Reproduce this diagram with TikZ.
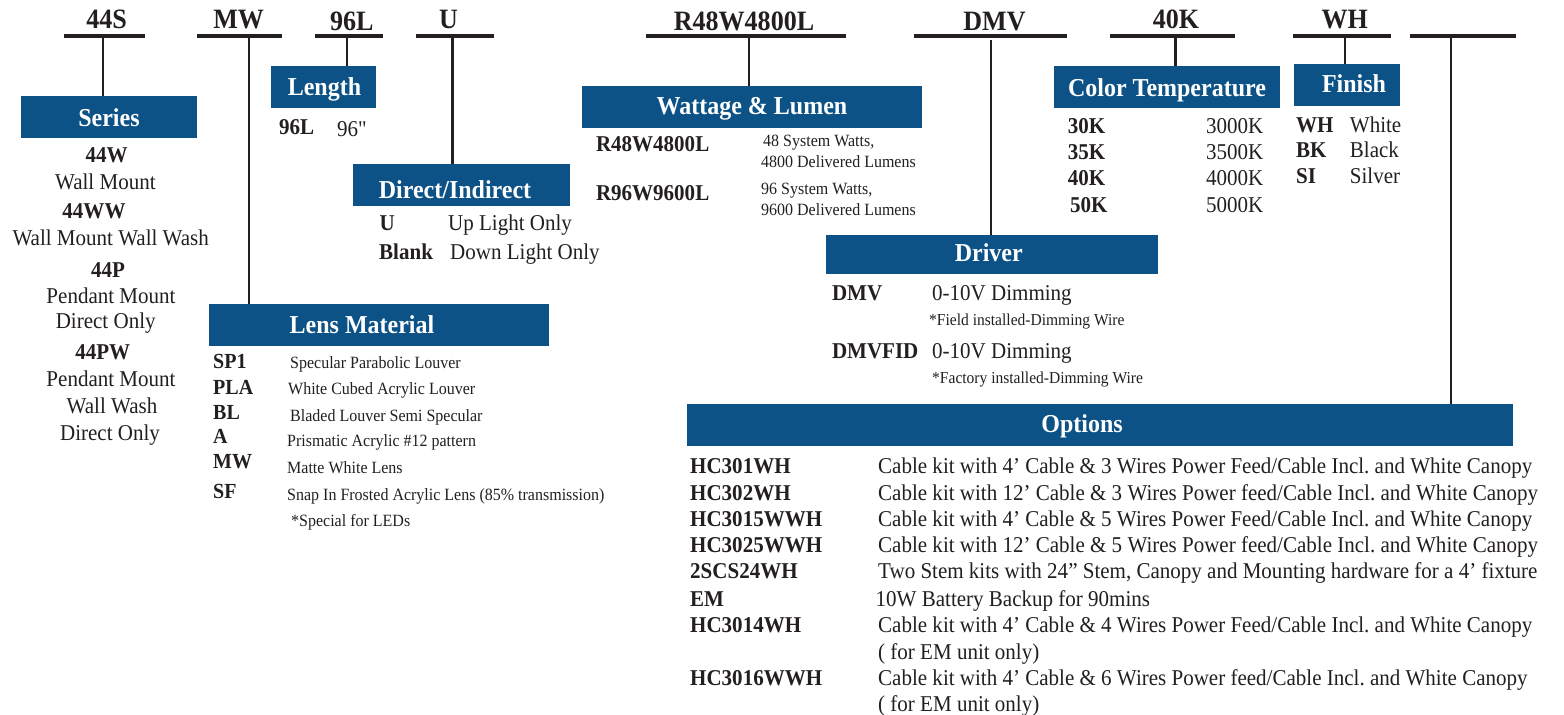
\documentclass[tikz,border=0pt]{standalone}
\usepackage{fontspec}
\setmainfont{Liberation Serif}[FakeStretch=0.93]
\definecolor{ink}{RGB}{35,31,32}
\definecolor{hblue}{RGB}{12,82,134}
\frenchspacing
\newcommand{\straightdq}{\XeTeXglyph\XeTeXglyphindex "quotedbl"\relax}
\begin{document}
\begin{tikzpicture}[x=1pt,y=-1pt,
  bar/.style={fill=ink, inner sep=0, minimum height=4pt, draw=none},
  vline/.style={draw=ink, line width=2.4pt},
  hbox/.style={fill=hblue, inner sep=0, draw=none},
  htitle/.style={anchor=base, text=white, font=\fontsize{25.8}{30}\selectfont\bfseries, inner sep=0},
  toplbl/.style={anchor=base, text=ink, font=\fontsize{28}{32}\selectfont\bfseries, inner sep=0},
  cc/.style={anchor=base, text=ink, font=\fontsize{22.6}{26}\selectfont, inner sep=0},
  ccb/.style={anchor=base, text=ink, font=\fontsize{22.6}{26}\selectfont\bfseries, inner sep=0},
  lt/.style={anchor=base west, text=ink, font=\fontsize{22.6}{26}\selectfont, inner sep=0},
  ltb/.style={anchor=base west, text=ink, font=\fontsize{22.6}{26}\selectfont\bfseries, inner sep=0},
  lbb/.style={anchor=base west, text=ink, font=\fontsize{21.5}{25}\selectfont\bfseries, inner sep=0},
  sm/.style={anchor=base west, text=ink, font=\fontsize{17.2}{20}\selectfont, inner sep=0},
  xs/.style={anchor=base west, text=ink, font=\fontsize{16.7}{19}\selectfont, inner sep=0}]
\useasboundingbox[fill=white] (0,0) rectangle (1564,715);

% ---- top bars and labels
\node[bar, minimum width=81pt]    (b1) at (104.5,35.7) {};
\node[bar, minimum width=85pt]    (b2) at (239,35.7) {};
\node[bar, minimum width=67.6pt]  (b3) at (348.8,35.7) {};
\node[bar, minimum width=78.2pt]  (b4) at (454.9,35.7) {};
\node[bar, minimum width=199.6pt] (b5) at (745.8,35.7) {};
\node[bar, minimum width=153.2pt] (b6) at (990.4,35.7) {};
\node[bar, minimum width=125pt]   (b7) at (1172.5,35.7) {};
\node[bar, minimum width=98pt]    (b8) at (1342,35.7) {};
\node[bar, minimum width=106pt]   (b9) at (1463,35.7) {};

\node[toplbl] (t1) at (106.7,28) {44S};
\node[toplbl] (t2) at (238.7,28) {MW};
\node[toplbl] (t3) at (351.8,30) {96L};
\node[toplbl] (t4) at (448.6,28) {U};
\node[toplbl] (t5) at (744,30) {R48W4800L};
\node[toplbl] (t6) at (994.5,30) {DMV};
\node[toplbl] (t7) at (1176,28) {40K};
\node[toplbl] (t8) at (1344.7,28) {WH};

% ---- header boxes
\node[hbox, minimum width=176pt, minimum height=42pt] (sbox)  at (109,117) {};
\node[hbox, minimum width=105pt, minimum height=42pt] (lenbox) at (323.5,87) {};
\node[hbox, minimum width=217pt, minimum height=42pt] (dibox) at (461.5,185) {};
\node[hbox, minimum width=340pt, minimum height=42pt] (wlbox) at (752,107) {};
\node[hbox, minimum width=340pt, minimum height=42pt] (lmbox) at (379,325) {};
\node[hbox, minimum width=226pt, minimum height=42pt] (ctbox) at (1167,87) {};
\node[hbox, minimum width=106pt, minimum height=42pt] (fbox)  at (1347,85) {};
\node[hbox, minimum width=332pt, minimum height=39pt] (drbox) at (991.6,254.5) {};
\node[hbox, minimum width=826pt, minimum height=42pt] (opbox) at (1100,425) {};

\node[htitle] (sboxt)  at (109,126) {Series};
\node[htitle] (lenboxt) at (324.5,95) {Length};
\node[htitle] (diboxt) at (455,198) {Direct/Indirect};
\node[htitle] (wlboxt) at (752,114) {Wattage \& Lumen};
\node[htitle] (lmboxt) at (362,333) {Lens Material};
\node[htitle] (ctboxt) at (1167,96.7) {Color Temperature};
\node[htitle] (fboxt)  at (1354,92.7) {Finish};
\node[htitle] (drboxt) at (988.8,261) {Driver};
\node[htitle] (opboxt) at (1082,432.7) {Options};

% ---- vertical connectors
\coordinate (v1) at (103,35.7);
\coordinate (v2) at (249,35.7);
\coordinate (v3) at (347,35.7);
\coordinate (v4) at (452.6,35.7);
\coordinate (v5) at (749,35.7);
\coordinate (v6) at (990.7,40);
\coordinate (v7) at (1175.6,35.7);
\coordinate (v8) at (1344.7,35.7);
\coordinate (v9) at (1451,35.7);
\draw[vline] (v1) -- (v1 |- sbox.north);
\draw[vline] (v2) -- (v2 |- lmbox.north);
\draw[vline] (v3) -- (v3 |- lenbox.north);
\draw[vline] (v4) -- (v4 |- dibox.north);
\draw[vline] (v5) -- (v5 |- wlbox.north);
\draw[vline] (v6) -- (v6 |- drbox.north);
\draw[vline] (v7) -- (v7 |- ctbox.north);
\draw[vline] (v8) -- (v8 |- fbox.north);
\draw[vline] (v9) -- (v9 |- opbox.north);

% ---- Series
\node[ccb] (s1) at (106.7,162.7) {44W};
\node[cc]  (s2) at (105.4,189.3) {Wall Mount};
\node[ccb] (s3) at (94,218.3) {44WW};
\node[cc]  (s4) at (110.7,245.6) {Wall Mount Wall Wash};
\node[ccb] (s5) at (108,277.7) {44P};
\node[cc]  (s6) at (111,303.3) {Pendant Mount};
\node[cc]  (s7) at (105.7,328.3) {Direct Only};
\node[ccb] (s8) at (102.7,359.3) {44PW};
\node[cc]  (s9) at (111,386) {Pendant Mount};
\node[cc]  (s10) at (112,413.3) {Wall Wash};
\node[cc]  (s11) at (110,440) {Direct Only};

% ---- Length
\node[ltb] (l1) at (279,134) {96L};
\node[lt]  (l2) at (337,136.7) {96\straightdq};

% ---- Direct/Indirect
\node[ltb] (d1) at (379.4,230) {U};
\node[lt]  (d2) at (448,230) {Up Light Only};
\node[ltb] (d3) at (379,259.3) {Blank};
\node[lt]  (d4) at (450,259.3) {Down Light Only};

% ---- Lens Material
\node[lbb] (m1) at (213,368.3) {SP1};
\node[lbb] (m2) at (213,394.3) {PLA};
\node[lbb] (m3) at (213,419.3) {BL};
\node[lbb] (m4) at (213,443.3) {A};
\node[lbb] (m5) at (213,468.3) {MW};
\node[lbb] (m6) at (213,498.3) {SF};
\node[sm] (md1) at (290,368.3) {Specular Parabolic Louver};
\node[sm] (md2) at (288,394.3) {White Cubed Acrylic Louver};
\node[sm] (md3) at (290,421) {Bladed Louver Semi Specular};
\node[sm] (md4) at (287,446.7) {Prismatic Acrylic \#12 pattern};
\node[sm] (md5) at (287,473.3) {Matte White Lens};
\node[sm] (md6) at (287,500) {Snap In Frosted Acrylic Lens (85\% transmission)};
\node[sm] (md7) at (291,526.7) {*Special for LEDs};

% ---- Wattage & Lumen
\node[ltb] (w1) at (595.8,151.7) {R48W4800L};
\node[ltb] (w2) at (595.8,200.7) {R96W9600L};
\node[sm] (wd1) at (763,146.7) {48 System Watts,};
\node[sm] (wd2) at (761,167.7) {4800 Delivered Lumens};
\node[sm] (wd3) at (761,194.3) {96 System Watts,};
\node[sm] (wd4) at (761,215.7) {9600 Delivered Lumens};

% ---- Color Temperature
\node[ltb] (c1) at (1067.7,133.3) {30K};
\node[ltb] (c2) at (1067.7,159.3) {35K};
\node[ltb] (c3) at (1067.7,185) {40K};
\node[ltb] (c4) at (1070,212) {50K};
\node[lt] (cv1) at (1206,133.3) {3000K};
\node[lt] (cv2) at (1206,159.3) {3500K};
\node[lt] (cv3) at (1206,185) {4000K};
\node[lt] (cv4) at (1206,212) {5000K};

% ---- Finish
\node[ltb] (f1) at (1296,132.7) {WH};
\node[ltb] (f2) at (1296,157.7) {BK};
\node[ltb] (f3) at (1296,183.3) {SI};
\node[lt] (fv1) at (1349.7,132.7) {White};
\node[lt] (fv2) at (1349.7,157.7) {Black};
\node[lt] (fv3) at (1349.7,183.3) {Silver};

% ---- Driver
\node[ltb] (r1) at (831.8,300) {DMV};
\node[lt]  (rv1) at (932,300) {0-10V Dimming};
\node[xs]  (rn1) at (929,325) {*Field installed-Dimming Wire};
\node[ltb] (r2) at (831.8,358.3) {DMVFID};
\node[lt]  (rv2) at (932,358.3) {0-10V Dimming};
\node[xs]  (rn2) at (932,383.3) {*Factory installed-Dimming Wire};

% ---- Options
\node[ltb] (o1) at (690,473.3) {HC301WH};
\node[ltb] (o2) at (690,500) {HC302WH};
\node[ltb] (o3) at (690,526) {HC3015WWH};
\node[ltb] (o4) at (690,552) {HC3025WWH};
\node[ltb] (o5) at (690,578.3) {2SCS24WH};
\node[ltb] (o6) at (690,606) {EM};
\node[ltb] (o7) at (690,632.7) {HC3014WH};
\node[ltb] (o8) at (690,685.3) {HC3016WWH};
\node[lt] (od1) at (878,473.3) {Cable kit with 4’ Cable \& 3 Wires Power Feed/Cable Incl. and White Canopy};
\node[lt] (od2) at (878,500) {Cable kit with 12’ Cable \& 3 Wires Power feed/Cable Incl. and White Canopy};
\node[lt] (od3) at (878,526) {Cable kit with 4’ Cable \& 5 Wires Power Feed/Cable Incl. and White Canopy};
\node[lt] (od4) at (878,552) {Cable kit with 12’ Cable \& 5 Wires Power feed/Cable Incl. and White Canopy};
\node[lt] (od5) at (878,578.3) {Two Stem kits with 24” Stem, Canopy and Mounting hardware for a 4’ fixture};
\node[lt] (od6) at (875.5,606) {10W Battery Backup for 90mins};
\node[lt] (od7) at (878,632.7) {Cable kit with 4’ Cable \& 4 Wires Power Feed/Cable Incl. and White Canopy};
\node[lt] (od7b) at (878,659.3) {( for EM unit only)};
\node[lt] (od8) at (878,685.3) {Cable kit with 4’ Cable \& 6 Wires Power feed/Cable Incl. and White Canopy};
\node[lt] (od8b) at (878,711.7) {( for EM unit only)};
\end{tikzpicture}
\end{document}
